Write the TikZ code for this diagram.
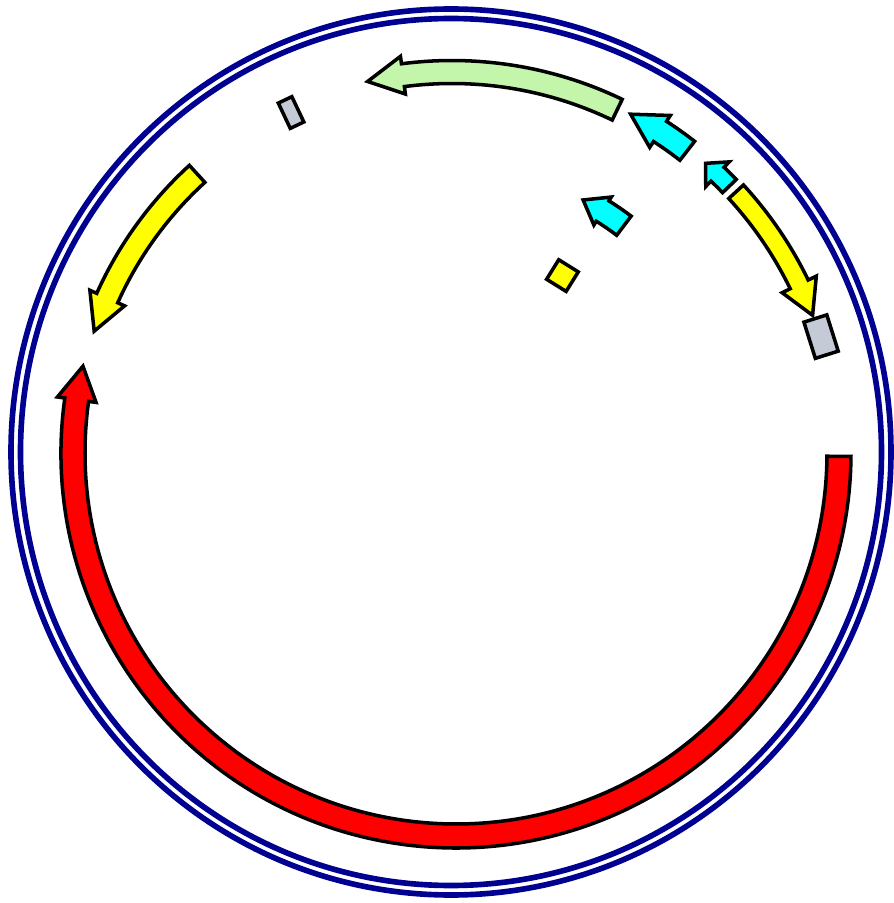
\documentclass[tikz,border=0pt]{standalone}
\usepackage{tikz}
\usepackage{xcolor}

\definecolor{ringblue}{RGB}{0,0,145}
\definecolor{lightgreen}{RGB}{195,245,170}
\definecolor{lightgrey}{RGB}{196,203,214}
\definecolor{aqua}{RGB}{0,255,255}
\definecolor{pureyellow}{RGB}{255,255,0}

% arc shaped arrow: style, radius, tail angle, head angle, tip angle, half width, half head width
\newcommand{\arcarrow}[7]{%
  \draw[#1] (#3:#2-#6) arc[start angle=#3, end angle=#4, radius=#2-#6]
    -- (#4:#2-#7) -- (#5:#2) -- (#4:#2+#7) -- (#4:#2+#6)
    arc[start angle=#4, end angle=#3, radius=#2+#6] -- cycle;}

\begin{document}
\begin{tikzpicture}[x=0.01cm, y=0.01cm,
	feature/.style={draw=black, line width=1pt},
	ring/.style={draw=ringblue, line width=1.6pt}]
	\useasboundingbox (-452,-450) rectangle (442,453);
	\coordinate (c) at (0,0);
	\coordinate (ringc) at (-1,1);

	% draw the two blue rings
	\draw[ring] (ringc) ellipse[x radius=440, y radius=443];
	\draw[ring] (ringc) ellipse[x radius=430.5, y radius=433.5];

	% draw the big red arc, slightly off centre
	\begin{scope}[shift={(4,0)}]
		\arcarrow{feature, fill=red}{383}{-0.5}{-188}{-193.1}{12}{19.5}
	\end{scope}

	% draw the yellow arrows
	\arcarrow{feature, fill=pureyellow}{378}{132.4}{155.8}{161.2}{11.5}{19}
	\arcarrow{feature, fill=pureyellow}{386}{42.6}{25.9}{20.9}{10}{19}

	% draw the green arrow on top
	\arcarrow{feature, fill=lightgreen}{381}{64.3}{97.4}{102.8}{11.5}{19}

	% draw the cyan arrows
	\arcarrow{feature, fill=aqua}{383}{52.1}{57.1}{62.2}{12}{19}
	\arcarrow{feature, fill=aqua}{385}{43.9}{46.4}{48.8}{9.5}{17}
	\arcarrow{feature, fill=aqua}{285}{52.9}{58.1}{62.6}{12}{16.5}

	% draw the small boxes
	\draw[feature, fill=lightgrey, rotate=17.5] (375,-19) rectangle (399,19);
	\draw[feature, fill=lightgrey, rotate=115.3] (362.6,-7.5) rectangle (390.6,7.5);
	\draw[feature, fill=pureyellow, rotate=58.1] (197.5,-11.5) rectangle (220.5,11.5);
\end{tikzpicture}
\end{document}
